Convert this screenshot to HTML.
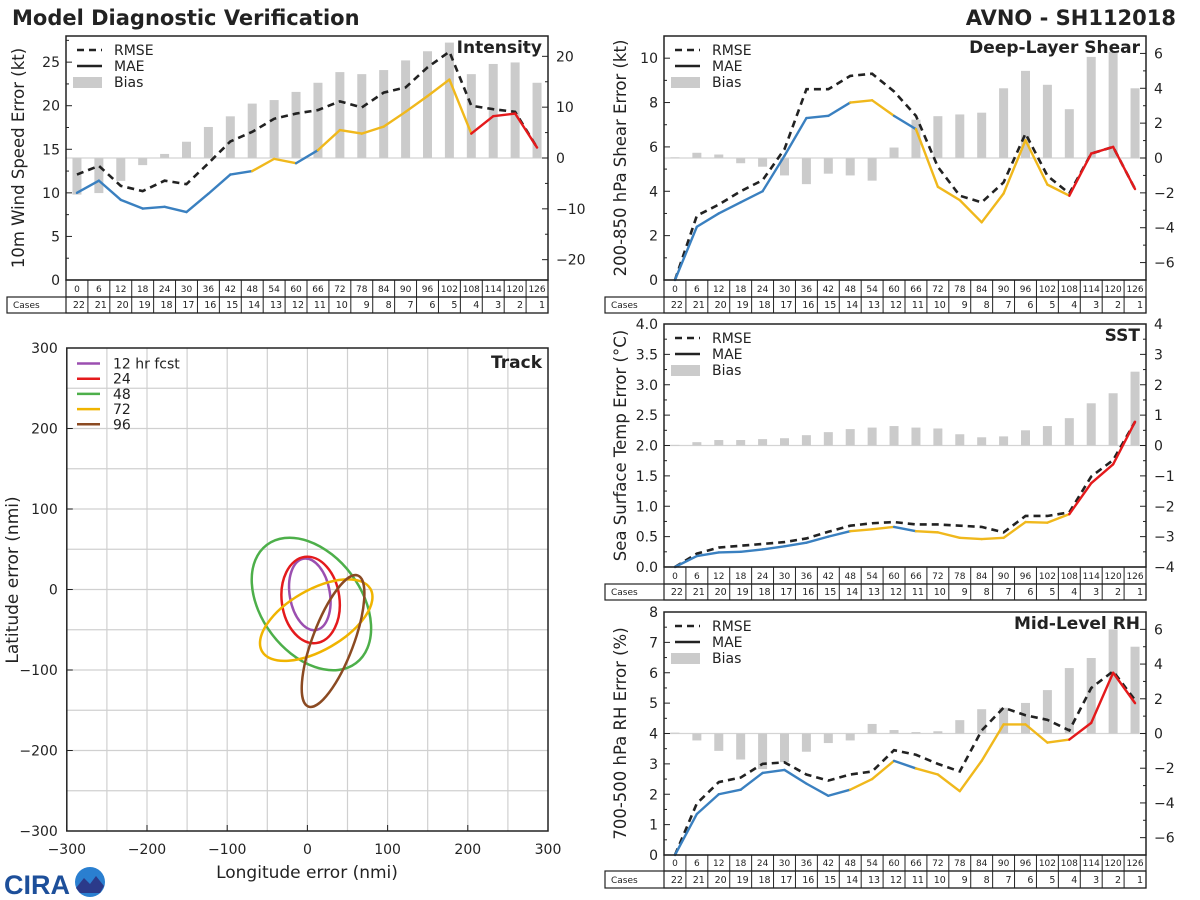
<!DOCTYPE html>
<html><head><meta charset="utf-8"><style>
html,body{margin:0;padding:0;background:#fff;}
svg{display:block;font-family:"DejaVu Sans","Liberation Sans",sans-serif;}
</style></head><body>
<svg id="fig" width="1200" height="900" viewBox="0 0 1200 900" xmlns="http://www.w3.org/2000/svg">
<rect width="1200" height="900" fill="#fff"/>
<text x="12" y="25" font-size="21" font-weight="bold" fill="#222">Model Diagnostic Verification</text>
<text x="1176" y="25" font-size="21" font-weight="bold" fill="#222" text-anchor="end">AVNO - SH112018</text>
<g>
<text x="4" y="894" font-size="27" font-weight="bold" fill="#1d4f9a" font-family="Liberation Sans, sans-serif">CIRA</text>
<circle cx="90" cy="882" r="15" fill="#2a7fd0"/>
<path d="M76 888 L84 878 L90 884 L96 876 L104 886 L100 893 L80 893 Z" fill="#2b3a8a"/>
</g>
</svg>
<script>
const hours=[0,6,12,18,24,30,36,42,48,54,60,66,72,78,84,90,96,102,108,114,120,126];
const cases=[22,21,20,19,18,17,16,15,14,13,12,11,10,9,8,7,6,5,4,3,2,1];
const segColors=['b','b','b','b','b','b','b','b','y','y','b','y','y','y','y','y','y','y','r','r','r'];
const intRmse=[12.1,13.1,10.8,10.2,11.4,11.0,13.4,15.9,17.0,18.5,19.1,19.5,20.5,19.8,21.5,22.1,24.4,26.2,20.0,19.6,19.3,15.2];
const intMae=[10.0,11.4,9.2,8.2,8.4,7.8,9.9,12.1,12.5,13.9,13.4,14.9,17.2,16.8,17.6,19.3,21.1,23.0,16.8,18.8,19.1,15.2];
const intBias=[-7.2,-6.9,-4.5,-1.4,0.8,3.2,6.1,8.2,10.7,11.4,13.0,14.8,16.9,16.5,17.3,19.2,21.0,22.7,16.5,18.5,18.8,14.8];
const shrRmse=[0,2.9,3.4,4.0,4.5,5.9,8.6,8.6,9.2,9.3,8.5,7.4,5.1,3.8,3.5,4.4,6.6,4.7,3.9,5.7,6.0,4.1];
const shrMae=[0,2.4,3.0,3.5,4.0,5.6,7.3,7.4,8.0,8.1,7.4,6.8,4.2,3.6,2.6,3.9,6.3,4.3,3.8,5.7,6.0,4.1];
const shrBias=[0.04,0.3,0.2,-0.3,-0.5,-1.0,-1.5,-0.9,-1.0,-1.3,0.6,2.2,2.4,2.5,2.6,4.0,5.0,4.2,2.8,5.8,6.1,4.0];
const sstRmse=[0,0.22,0.32,0.35,0.38,0.41,0.47,0.58,0.68,0.72,0.74,0.70,0.70,0.68,0.66,0.57,0.84,0.84,0.90,1.49,1.76,2.39];
const sstMae=[0,0.18,0.24,0.25,0.29,0.34,0.40,0.50,0.59,0.62,0.66,0.59,0.57,0.48,0.46,0.48,0.74,0.73,0.87,1.38,1.69,2.39];
const sstBias=[0.02,0.11,0.18,0.18,0.21,0.24,0.34,0.44,0.54,0.59,0.64,0.59,0.56,0.37,0.27,0.30,0.50,0.64,0.90,1.39,1.72,2.43];
const rhRmse=[0,1.7,2.4,2.55,3.0,3.05,2.65,2.45,2.65,2.75,3.45,3.3,3.0,2.75,4.1,4.85,4.6,4.45,4.1,5.5,6.05,5.1];
const rhMae=[0,1.35,2.0,2.15,2.7,2.8,2.35,1.95,2.15,2.5,3.1,2.85,2.65,2.1,3.1,4.3,4.3,3.7,3.8,4.35,6.0,5.0];
const rhBias=[0.05,-0.4,-1.0,-1.5,-2.05,-1.65,-1.05,-0.55,-0.4,0.55,0.2,0.08,0.13,0.77,1.4,1.48,1.76,2.5,3.77,4.35,6.0,5.0];
const trackLabels=['12 hr fcst','24','48','72','96'];
const trackColors=['#9b4fb0','#e41a1c','#4daf4a','#f0b400','#8b4a22'];
const trackCx=[3,4,5,11,32];
const trackCy=[-6,-13,-18,-38,-64];
const trackRx=[25,36,62,78,25.6];
const trackRy=[45,54,92,37.5,87];
const trackRot=[-10,-7.6,-37,-30,20.7];

const NS='http://www.w3.org/2000/svg';
const svg=document.getElementById('fig');
const COL={b:'#3a80c0',y:'#f0b81c',r:'#e41a1c'};
function mk(tag,attrs,parent){const e=document.createElementNS(NS,tag);for(const k in attrs)e.setAttribute(k,attrs[k]);(parent||svg).appendChild(e);return e;}
function txt(s,attrs,parent){const e=mk('text',attrs,parent);e.textContent=s;return e;}

function panel(o){
  const g=mk('g',{});
  
  
  const cw=(o.x1-o.x0)/hours.length;
  const xAt=i=>o.x0+(i+0.5)*cw;
  const yAt=v=>o.y1-(v-o.ymin)/(o.ymax-o.ymin)*(o.y1-o.y0);
  const bAt=v=>o.y1-(v-o.bmin)/(o.bmax-o.bmin)*(o.y1-o.y0);
  const z=mk('line',{x1:o.x0,x2:o.x1,y1:bAt(0),y2:bAt(0),stroke:'#d4d4d4','stroke-width':1.2},g);
  
  
  o.bias.forEach((v,i)=>{
    const y=Math.min(bAt(v),bAt(0));const h=Math.abs(bAt(v)-bAt(0));
    const r=mk('rect',{x:xAt(i)-4.5,y:y,width:9,height:Math.max(h,0.8),fill:'#cbcbcb'},g);
    
    
  });
  const pr=mk('polyline',{points:o.rmse.map((v,i)=>xAt(i)+','+yAt(v)).join(' '),fill:'none',stroke:'#222','stroke-width':2.6,'stroke-dasharray':'7,5'},g);
  
  
  for(let i=0;i<o.mae.length-1;i++){
    const s=mk('line',{x1:xAt(i),y1:yAt(o.mae[i]),x2:xAt(i+1),y2:yAt(o.mae[i+1]),stroke:COL[segColors[i]],'stroke-width':2.4,'stroke-linecap':'round'},g);
    
    
  }
  const f=mk('rect',{x:o.x0,y:o.y0,width:o.x1-o.x0,height:o.y1-o.y0,fill:'none',stroke:'#222','stroke-width':1.5},g);
  
  
  for(let v=o.ymin;v<=o.ymax+1e-9;v+=o.yminor){
    const y=yAt(v);const major=Math.abs(v/o.ystep-Math.round(v/o.ystep))<1e-6;
    mk('line',{x1:o.x0,x2:o.x0+(major?6:3),y1:y,y2:y,stroke:'#222','stroke-width':1},g);
    if(major&&v<=o.ylabMax+1e-9){const t=txt(v.toFixed(o.dec),{x:o.x0-6,y:y+5,'font-size':14,fill:'#222','text-anchor':'end'},g);
      }
  }
  for(let v=Math.ceil(o.bmin/o.bminor)*o.bminor;v<=o.bmax+1e-9;v+=o.bminor){
    const y=bAt(v);const major=Math.abs(v/o.bstep-Math.round(v/o.bstep))<1e-6;
    mk('line',{x1:o.x1,x2:o.x1-(major?6:3),y1:y,y2:y,stroke:'#222','stroke-width':1},g);
    if(major){const t=txt(v<0?'\u2212'+Math.abs(v):String(v),{x:o.x1+8,y:y+5,'font-size':14,fill:'#222'},g);
      }
  }
  const ti=txt(o.title,{x:o.x1-6,y:o.y0+17,'font-size':17,'font-weight':'bold',fill:'#222','text-anchor':'end'},g);
  
  const cy=(o.y0+o.y1)/2;
  const yl=txt(o.ylabel,{x:o.ylx,y:cy,'font-size':16.5,fill:'#222','text-anchor':'middle',transform:`rotate(-90 ${o.ylx} ${cy})`},g);
  
  const lg=mk('g',{},g);
  const ly=o.y0+14;
  mk('line',{x1:o.x0+11,x2:o.x0+36,y1:ly,y2:ly,stroke:'#222','stroke-width':2.6,'stroke-dasharray':'7,5'},lg);
  mk('line',{x1:o.x0+11,x2:o.x0+36,y1:ly+16,y2:ly+16,stroke:'#222','stroke-width':2.6},lg);
  mk('rect',{x:o.x0+7,y:ly+27,width:29,height:11,fill:'#cbcbcb'},lg);
  txt('RMSE',{x:o.x0+48,y:ly+5,'font-size':14,fill:'#222'},lg);
  txt('MAE',{x:o.x0+48,y:ly+21,'font-size':14,fill:'#222'},lg);
  txt('Bias',{x:o.x0+48,y:ly+37,'font-size':14,fill:'#222'},lg);
  const tb=mk('g',{},g);
  const t0=o.y1,t1=o.tmid,t2=o.tbot;
  mk('rect',{x:o.x0,y:t0,width:o.x1-o.x0,height:t2-t0,fill:'none',stroke:'#222','stroke-width':1.2},tb);
  mk('rect',{x:o.labX,y:t1,width:o.x1-o.labX,height:t2-t1,fill:'none',stroke:'#222','stroke-width':1.2},tb);
  mk('line',{x1:o.x0,x2:o.x1,y1:t1,y2:t1,stroke:'#222','stroke-width':1.2},tb);
  txt('Cases',{x:o.labX+6,y:t2-5,'font-size':9,fill:'#222'},tb);
  hours.forEach((h,i)=>{
    if(i>0)mk('line',{x1:o.x0+i*cw,x2:o.x0+i*cw,y1:t0,y2:t2,stroke:'#222','stroke-width':1},tb);
    txt(String(h),{x:xAt(i),y:t1-5,'font-size':9,fill:'#222','text-anchor':'middle'},tb);
    txt(String(cases[i]),{x:o.x0+(i+1)*cw-3,y:t2-5,'font-size':9.5,fill:'#222','text-anchor':'end'},tb);
  });
}

panel({name:'intensity-panel',x0:66,x1:548,y0:36,y1:280,ymin:0,ymax:28,ystep:5,yminor:2.5,ylabMax:25,dec:0,bmin:-24,bmax:24,bstep:10,bminor:5,
  rmse:intRmse,mae:intMae,bias:intBias,title:'Intensity',ylabel:'10m Wind Speed Error (kt)',ylx:24,tmid:297,tbot:313,labX:7});
panel({name:'shear-panel',x0:664,x1:1146,y0:36,y1:280,ymin:0,ymax:11,ystep:2,yminor:1,ylabMax:10,dec:0,bmin:-7,bmax:7,bstep:2,bminor:1,
  rmse:shrRmse,mae:shrMae,bias:shrBias,title:'Deep-Layer Shear',ylabel:'200-850 hPa Shear Error (kt)',ylx:626,tmid:297,tbot:313,labX:605});
panel({name:'sst-panel',x0:664,x1:1146,y0:324,y1:567,ymin:0,ymax:4,ystep:0.5,yminor:0.25,ylabMax:4,dec:1,bmin:-4,bmax:4,bstep:1,bminor:0.5,
  rmse:sstRmse,mae:sstMae,bias:sstBias,title:'SST',ylabel:'Sea Surface Temp Error (\u00B0C)',ylx:626,tmid:584,tbot:600,labX:605});
panel({name:'rh-panel',x0:664,x1:1146,y0:612,y1:855,ymin:0,ymax:8,ystep:1,yminor:0.5,ylabMax:8,dec:0,bmin:-7,bmax:7,bstep:2,bminor:1,
  rmse:rhRmse,mae:rhMae,bias:rhBias,title:'Mid-Level RH',ylabel:'700-500 hPa RH Error (%)',ylx:626,tmid:871,tbot:888,labX:605});

(function(){
  const g=mk('g',{});
  
  
  const X0=66.8,X1=548,Y0=348,Y1=831;
  const xs=v=>X0+(v+300)/600*(X1-X0);
  const ys=v=>Y1-(v+300)/600*(Y1-Y0);
  const sx=(X1-X0)/600, sy=(Y1-Y0)/600;
  for(let v=-250;v<300;v+=50){
    mk('line',{x1:xs(v),x2:xs(v),y1:Y0,y2:Y1,stroke:'#d0d0d0','stroke-width':1.2},g);
    mk('line',{x1:X0,x2:X1,y1:ys(v),y2:ys(v),stroke:'#d0d0d0','stroke-width':1.2},g);
  }
  trackLabels.forEach((lab,i)=>{
    const cx=xs(trackCx[i]),cy=ys(trackCy[i]);
    const e=mk('ellipse',{cx:cx,cy:cy,rx:trackRx[i]*sx,ry:trackRy[i]*sy,fill:'none',stroke:trackColors[i],'stroke-width':2.5,transform:`rotate(${trackRot[i]} ${cx} ${cy})`},g);
    
    
    const ly=363.5+i*15.2;
    const ll=mk('line',{x1:77,x2:100,y1:ly,y2:ly,stroke:trackColors[i],'stroke-width':2.5},g);
    
    
    const lt=txt(lab,{x:113,y:ly+5,'font-size':14,fill:'#222'},g);
    
    
  });
  mk('rect',{x:X0,y:Y0,width:X1-X0,height:Y1-Y0,fill:'none',stroke:'#222','stroke-width':1.5},g);
  for(let v=-300;v<=300;v+=100){
    const lab=v<0?'\u2212'+Math.abs(v):String(v);
    mk('line',{x1:xs(v),x2:xs(v),y1:Y1,y2:Y1-6,stroke:'#222'},g);
    mk('line',{x1:X0,x2:X0+6,y1:ys(v),y2:ys(v),stroke:'#222'},g);
    const a=txt(lab,{x:xs(v),y:Y1+23,'font-size':14,fill:'#222','text-anchor':'middle'},g);
    
    const b=txt(lab,{x:X0-9,y:ys(v)+5,'font-size':14,fill:'#222','text-anchor':'end'},g);
    
  }
  const t=txt('Track',{x:X1-6,y:Y0+20,'font-size':17,'font-weight':'bold',fill:'#222','text-anchor':'end'},g);
  
  const xl=txt('Longitude error (nmi)',{x:307,y:878,'font-size':17,fill:'#222','text-anchor':'middle'},g);
  
  const yl=txt('Latitude error (nmi)',{x:18,y:580,'font-size':17,fill:'#222','text-anchor':'middle',transform:'rotate(-90 18 580)'},g);
  
})();
</script>
</body></html>
